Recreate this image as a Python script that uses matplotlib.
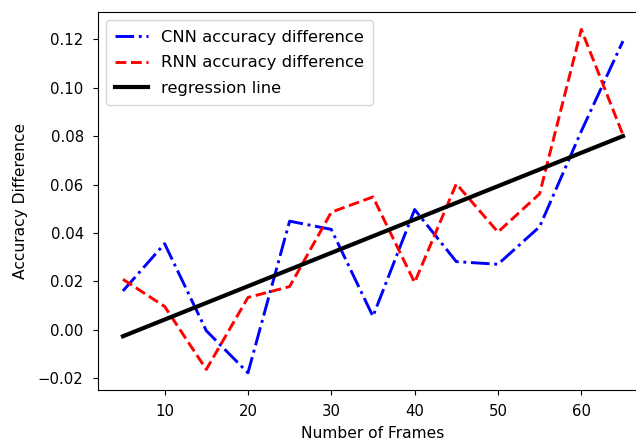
import matplotlib
matplotlib.use("Agg")
import matplotlib.pyplot as plt

frames = [5, 10, 15, 20, 25, 30, 35, 40, 45, 50, 55, 60, 65]
cnn_diff = [0.0161, 0.0356, -0.0003, -0.0177, 0.0449, 0.0415, 0.0056,
            0.0497, 0.0282, 0.0271, 0.0426, 0.0820, 0.1192]
rnn_diff = [0.0209, 0.0097, -0.0163, 0.0134, 0.0179, 0.0486, 0.0549,
            0.0196, 0.0603, 0.0404, 0.0562, 0.1240, 0.0805]
reg_x = [5, 65]
reg_y = [-0.0026, 0.0800]

fig = plt.figure(figsize=(6.36, 4.41), dpi=100)
ax = fig.add_axes([0.154, 0.1156, 0.8648, 0.8565])

ax.plot(frames, cnn_diff, color="blue", linestyle="-.", linewidth=2.1,
        label="CNN accuracy difference")
ax.plot(frames, rnn_diff, color="red", linestyle="--", linewidth=2.1,
        label="RNN accuracy difference")
ax.plot(reg_x, reg_y, color="black", linestyle="-", linewidth=3,
        label="regression line")

ax.set_xticks([10, 20, 30, 40, 50, 60])
ax.set_yticks([-0.02, 0.00, 0.02, 0.04, 0.06, 0.08, 0.10, 0.12])
ax.tick_params(labelsize=10.7, pad=6.8)
ax.set_xlabel("Number of Frames", fontsize=11.2, labelpad=5)
ax.set_ylabel("Accuracy Difference", fontsize=11.2, labelpad=7)
ax.legend(loc="upper left", fontsize=11.8, labelspacing=0.66, borderpad=0.55)

fig.savefig("out.png", dpi=100)
